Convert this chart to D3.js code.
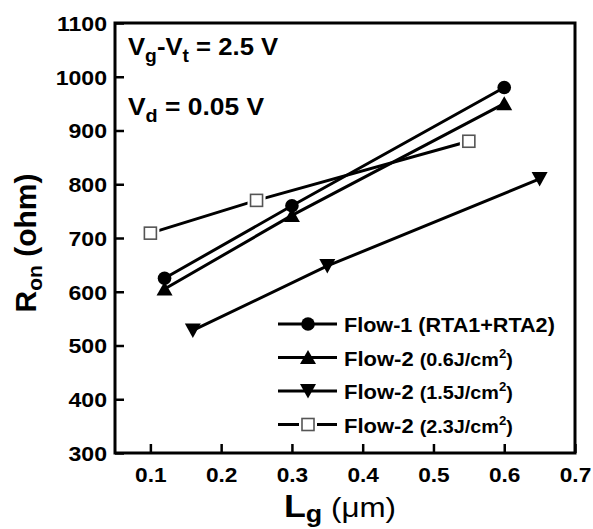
<!DOCTYPE html>
<html>
<head>
<meta charset="utf-8">
<script src="https://cdn.jsdelivr.net/npm/d3@7"></script>
<style>
  html, body { margin: 0; padding: 0; background: #fff; }
  svg { display: block; font-family: "Liberation Sans", Arial, Helvetica, sans-serif; }
</style>
</head>
<body>
<svg id="chart" width="593" height="529"></svg>
<script>
// Gate length (um) and on-resistance (ohm) for each process flow
const flow1Lg = [0.12, 0.30, 0.60];
const flow1Ron = [625, 760, 980];
const flow2a06Lg = [0.12, 0.30, 0.60];
const flow2a06Ron = [605, 742, 950];
const flow2b15Lg = [0.16, 0.35, 0.65];
const flow2b15Ron = [528, 648, 810];
const flow2c23Lg = [0.10, 0.25, 0.55];
const flow2c23Ron = [709, 770, 880];

const xTickValues = [0.1, 0.2, 0.3, 0.4, 0.5, 0.6, 0.7];
const yTickValues = [300, 400, 500, 600, 700, 800, 900, 1000, 1100];

const legendMain = ["Flow-1", "Flow-2", "Flow-2", "Flow-2"];
const legendSub = ["(RTA1+RTA2)", "(0.6J/cm", "(1.5J/cm", "(2.3J/cm"];
const legendSup = ["", "2", "2", "2"];
const markerKinds = ["circle", "up", "down", "square"];

const series = [
  { lg: flow1Lg, ron: flow1Ron },
  { lg: flow2a06Lg, ron: flow2a06Ron },
  { lg: flow2b15Lg, ron: flow2b15Ron },
  { lg: flow2c23Lg, ron: flow2c23Ron }
];

const svg = d3.select("#chart");
const plotL = 115, plotR = 575, plotT = 23, plotB = 453;

// Widen a text horizontally while keeping its anchor point fixed
function widen(sel, sx) {
  sel.each(function () {
    const t = d3.select(this);
    const ax = +t.attr("x") || 0;
    const prev = t.attr("transform") || "";
    t.attr("transform", `${prev} translate(${ax},0) scale(${sx},1) translate(${-ax},0)`);
  });
}

const x = d3.scaleLinear().domain([0.05, 0.7]).range([plotL, plotR]);
const y = d3.scaleLinear().domain([300, 1100]).range([plotB, plotT]);

// Axes with inward ticks
const xAxis = d3.axisBottom(x).tickValues(xTickValues).tickSize(-9).tickPadding(14)
  .tickFormat(d3.format(".1f"));
const yAxis = d3.axisLeft(y).tickValues(yTickValues).tickSize(-9).tickPadding(8)
  .tickFormat(d3.format("d"));

const gx = svg.append("g").attr("transform", `translate(0,${plotB})`).call(xAxis);
const gy = svg.append("g").attr("transform", `translate(${plotL},0)`).call(yAxis);
[gx, gy].forEach(g => {
  g.select(".domain").remove();
  g.selectAll(".tick line").attr("stroke", "#000").attr("stroke-width", 2.5);
  g.selectAll(".tick text").attr("fill", "#000").attr("font-size", 21)
    .attr("font-weight", "bold").attr("font-family", "'Liberation Sans', Arial, sans-serif");
});
gx.selectAll(".tick text").attr("dy", "0.71em").attr("y", 14);
gy.selectAll(".tick text").attr("dy", "0.35em");
widen(gx.selectAll(".tick text"), 1.08);
widen(gy.selectAll(".tick text"), 1.1);

// Frame
svg.append("rect")
  .attr("x", plotL).attr("y", plotT)
  .attr("width", plotR - plotL).attr("height", plotB - plotT)
  .attr("fill", "none").attr("stroke", "#000").attr("stroke-width", 3);

// Marker shapes
function drawMarker(g, kind, cx, cy) {
  if (kind === "circle") {
    g.append("circle").attr("cx", cx).attr("cy", cy).attr("r", 6.8).attr("fill", "#000");
  } else if (kind === "up") {
    g.append("path").attr("d", `M${cx},${cy - 7.5} L${cx + 8},${cy + 6.5} L${cx - 8},${cy + 6.5} Z`)
      .attr("fill", "#000");
  } else if (kind === "down") {
    g.append("path").attr("d", `M${cx - 8},${cy - 7} L${cx + 8},${cy - 7} L${cx},${cy + 7.5} Z`)
      .attr("fill", "#000");
  } else {
    g.append("rect").attr("x", cx - 9).attr("y", cy - 9).attr("width", 18).attr("height", 18)
      .attr("fill", "#fff");
    g.append("rect").attr("x", cx - 6).attr("y", cy - 6).attr("width", 12).attr("height", 12)
      .attr("fill", "#fff").attr("stroke", "#555").attr("stroke-width", 1.6);
  }
}

const line = d3.line().x(d => x(d[0])).y(d => y(d[1]));
const plot = svg.append("g");

series.forEach((s, i) => {
  const pts = s.lg.map((v, j) => [v, s.ron[j]]);
  plot.append("path").attr("d", line(pts)).attr("fill", "none")
    .attr("stroke", "#000").attr("stroke-width", 3);
});
series.forEach((s, i) => {
  const g = plot.append("g");
  s.lg.forEach((v, j) => drawMarker(g, markerKinds[i], x(v), y(s.ron[j])));
});

// Legend
const legend = svg.append("g");
const legendRows = [324, 357.5, 391, 424.5];
legendRows.forEach((ly, i) => {
  legend.append("line").attr("x1", 278).attr("x2", 337).attr("y1", ly).attr("y2", ly)
    .attr("stroke", "#000").attr("stroke-width", 3);
  drawMarker(legend, markerKinds[i], 308, ly);
  const t = legend.append("text").attr("x", 344).attr("y", ly + 8.5)
    .attr("font-weight", "bold").attr("fill", "#000");
  t.append("tspan").attr("font-size", 20).text(legendMain[i] + " ");
  t.append("tspan").attr("font-size", i === 0 ? 20 : 18).text(legendSub[i]);
  if (legendSup[i]) {
    t.append("tspan").attr("font-size", 12).attr("dy", -8).text(legendSup[i]);
    t.append("tspan").attr("font-size", 18).attr("dy", 8).text(")");
  }
  widen(t, i === 0 ? 1.08 : 1.1);
});

// Bias conditions
const a1 = svg.append("text").attr("x", 128).attr("y", 55).attr("font-weight", "bold")
  .attr("font-size", 24).attr("fill", "#000");
a1.append("tspan").text("V");
a1.append("tspan").attr("font-size", 18).attr("dy", 7).text("g");
a1.append("tspan").attr("dy", -7).text("-V");
a1.append("tspan").attr("font-size", 18).attr("dy", 7).text("t");
a1.append("tspan").attr("dy", -7).text(" = 2.5 V");
widen(a1, 1.07);

const a2 = svg.append("text").attr("x", 128).attr("y", 115).attr("font-weight", "bold")
  .attr("font-size", 24).attr("fill", "#000");
a2.append("tspan").text("V");
a2.append("tspan").attr("font-size", 18).attr("dy", 7).text("d");
a2.append("tspan").attr("dy", -7).text(" = 0.05 V");
widen(a2, 1.1);

// Axis titles
const xt = svg.append("text").attr("x", 340).attr("y", 517).attr("text-anchor", "middle")
  .attr("fill", "#000");
xt.append("tspan").attr("font-weight", "bold").attr("font-size", 32).text("L");
xt.append("tspan").attr("font-weight", "bold").attr("font-size", 24).attr("dy", 5).text("g");
xt.append("tspan").attr("font-size", 28).attr("dy", -5).text(" (\u03bcm)");
widen(xt, 1.12);

const yt = svg.append("text").attr("transform", "translate(36,243) rotate(-90)")
  .attr("text-anchor", "middle").attr("fill", "#000").attr("font-weight", "bold");
yt.append("tspan").attr("font-size", 30).text("R");
yt.append("tspan").attr("font-size", 21).attr("dy", 6).text("on");
yt.append("tspan").attr("font-size", 30).attr("dy", -6).text(" (ohm)");
</script>
</body>
</html>
